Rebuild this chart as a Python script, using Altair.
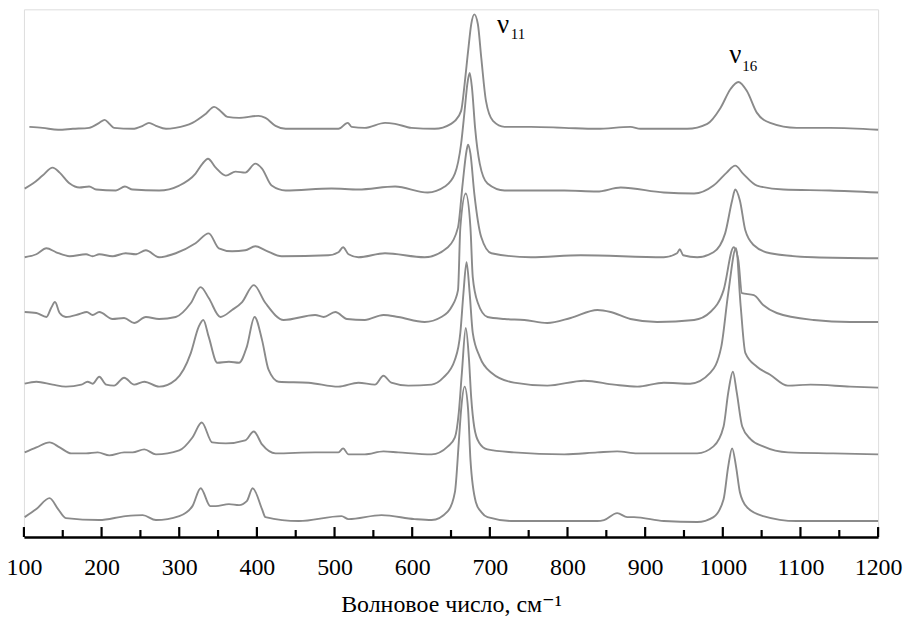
import altair as alt
import pandas as pd

# Raman spectra (wavenumber, stacked intensity in arbitrary units), top to bottom
s1_x = [107,124,144,163,184,197,204,210,216,240,253,261,270,283,295,317,334,345,353,362,377,402,411,424,437,471,505,517,522,539,565,578,599,629,650,655,663,667.5,672,676,680,684.6,689,695,704,719,753,796,838,881,894,954,980,997,1010,1020,1031,1044,1061,1095,1138,1200]
s1_y = [412,411,409,410,411,416,419,415,411,410,413,416,413,410,411,416,425,432,428,422,421,423,421,413,410,410,410,416,412,411,416,415,411,410,415,418,428,455,488,515,525,515,481,438,418,412,412,411,410,412,410,410,415,431,450,457,448,426,416,411,411,409]

s2_x = [101,111.5,124,137,146,159,171.5,184,193,218.5,230,240,274,300,321,330,337,347,360,372.5,385,398,406.6,419,437,496,530.7,578,620,642,655,663,667.5,671,674,677,681,687,697,719,796,838,868.5,924,963,988,1005,1016,1026,1044,1078,1138,1200]
s2_y = [350,355,363,371,366,355,351,352,349,348,352,349,348,353,365,375,380,371,363,367,366,375,370,353,348,350,349,352,346,352,365,395,428,455,466,451,411,375,355,348,348,347,351,346,345,353,366,373,365,353,349,348,346]

s3_x = [101,116,129,141.5,159,180,188.5,197,214,231,244,257,274,295.5,321,338,351,368,385,398,411,432,492,505,511,518,530.7,565,616,646,659,665,670,672,675,680,689,702,753,817,924,941,944.6,949,967,988,1003,1012,1016,1022,1029,1040,1061,1117,1200]
s3_y = [281,284,290,286,282,284,282,284,282,285,284,288,281,285,295,305,290,287,288,292,288,282,283,286,291,284,281,285,281,291,311,355,388,394,385,345,301,285,281,283,281,285,289,283,281,286,305,338,349,338,308,293,285,281,280]

s4_x = [101,116,129,135,140,146,154,171.5,181,188.5,197,214,229,242,257,274,295.5,315,327.6,338,353,368,381,396,411,434.5,475,486,501,516,539,563,582,616,637.5,650.6,659,662,669,675,678,684.6,697,719,744.5,774,804,838.5,855.6,881,915.5,963,984,1001,1014,1020,1024.6,1040,1052,1069.5,1117,1164,1200]
s4_y = [226,225,221,230,236,225,221,224,226,223,226,219,220,215,221,219,221,235,251,240,221,228,236,253,235,218,223,221,226,219,218,223,221,216,221,231,248,311,345,311,261,235,221,219,218,215,220,228,226,219,216,218,226,248,291,278,245,243,233,225,218,216,216]

s5_x = [101,116,137,154,174,182,188.5,197,206,216,229,242,255,274,295.5,315,325,331,338,349,364,377,387,397,406.6,415,428,466.5,505,530.7,552,563,573,595,625,640,655,662,666,670,674,678,687,702,731,774,821.5,860,890,924,958,984,998,1007,1017,1023,1029,1044,1061,1083.7,1113,1164,1200]
s5_y = [154,156,153,151,153,156,154,161,153,152,160,153,156,151,158,185,211,218,201,175,176,175,191,221,198,168,156,155,151,155,153,162,155,152,153,160,178,205,245,276,245,205,181,165,155,152,157,153,151,155,154,165,191,245,290,232,185,171,163,152,153,151,150]

s6_x = [101,116,133,146,161,180,195,210,229,240,255,270,300,317,329,342.5,360,385,396,406.6,424,475,505,511,518,539,563,582,625,646,655,660,664,669,673,676,680,686,697,731,796,838.5,864,890,967,988,1001,1007,1013,1018,1025,1036,1052,1084,1142,1200]
s6_y = [85,90,95,90,84,84,85,82,85,85,88,83,87,100,115,95,94,97,106,93,84,85,85,89,83,83,86,85,83,91,100,125,165,210,180,140,110,95,88,85,83,85,86,84,84,91,111,145,166,145,111,98,91,85,84,83]

s7_x = [101,116,133,144,154,197,231,253,270,300,317,327.6,340,347,364,377,387,394.6,406.6,411,454,509,518,560.5,603,625,646,655,660,663,667.5,672,675,682,689,697,731,838.5,847,864,877,885.6,924,967,988,1001,1007,1012,1017,1022,1031,1052,1095,1200]
s7_y = [20,28,39,28,19,17,21,22,17,21,31,49,31,31,33,32,36,49,28,20,16,21,18,22,18,17,26,45,95,128,151,128,78,35,25,20,16,16,17,24,20,20,16,15,20,38,71,89,71,45,30,21,16,16]

series = [("1", s1_x, s1_y), ("2", s2_x, s2_y), ("3", s3_x, s3_y), ("4", s4_x, s4_y),
          ("5", s5_x, s5_y), ("6", s6_x, s6_y), ("7", s7_x, s7_y)]

major_ticks = [100, 200, 300, 400, 500, 600, 700, 800, 900, 1000, 1100, 1200]
minor_ticks = [150, 250, 350, 450, 550, 650, 750, 850, 950, 1050, 1150]

# band labels
band_main = ["ν", "ν"]
band_main_x = [717, 1016]
band_main_y = [506, 476]
band_sub = ["11", "16"]
band_sub_x = [727, 1025]
band_sub_y = [500, 468]

rows = []
for name, xs, ys in series:
    for x, y in zip(xs, ys):
        rows.append({"series": name, "wn": x, "inten": y})
df = pd.DataFrame(rows)

FONT = "Liberation Serif, Times New Roman, DejaVu Serif, serif"
W, H = 858, 530
xscale = alt.Scale(domain=[100, 1200], nice=False, zero=False)
yscale = alt.Scale(domain=[0, 530], nice=False, zero=False)

lines = alt.Chart(df).mark_line(color="#8a8a8a", strokeWidth=1.9, interpolate="monotone").encode(
    x=alt.X("wn:Q", scale=xscale,
            axis=alt.Axis(values=major_ticks, format="d", title="Волновое число, см⁻¹",
                          labelFont=FONT, labelFontSize=24, labelColor="black",
                          labelPadding=19, labelOverlap=False, labelFlush=False,
                          ticks=False, grid=False, domainColor="black", domainWidth=2.5,
                          titleFont=FONT, titleFontSize=24, titleFontWeight="normal",
                          titleColor="black", titleBaseline="alphabetic", titleY=75)),
    y=alt.Y("inten:Q", scale=yscale, axis=None),
    detail="series:N",
)

major = alt.Chart(pd.DataFrame({"t": major_ticks})).mark_rule(color="black", strokeWidth=2.2).encode(
    x=alt.X("t:Q", scale=xscale), y=alt.value(H), y2=alt.value(H - 10))
minor = alt.Chart(pd.DataFrame({"t": minor_ticks})).mark_rule(color="black", strokeWidth=2.2).encode(
    x=alt.X("t:Q", scale=xscale), y=alt.value(H), y2=alt.value(H - 7))

lab_main = alt.Chart(pd.DataFrame({"t": band_main, "x": band_main_x, "y": band_main_y})).mark_text(
    font=FONT, fontSize=27, align="center", baseline="alphabetic", color="black").encode(
    x=alt.X("x:Q", scale=xscale), y=alt.Y("y:Q", scale=yscale), text="t:N")
lab_sub = alt.Chart(pd.DataFrame({"t": band_sub, "x": band_sub_x, "y": band_sub_y})).mark_text(
    font=FONT, fontSize=15, align="left", baseline="alphabetic", color="black").encode(
    x=alt.X("x:Q", scale=xscale), y=alt.Y("y:Q", scale=yscale), text="t:N")

chart = alt.layer(lines, major, minor, lab_main, lab_sub).properties(
    width=W, height=H,
    autosize=alt.AutoSizeParams(type="none"),
    padding={"left": 16, "top": 0, "right": 25, "bottom": 78},
).configure_view(stroke=None).configure(background="white")

chart.save("out.html", embed_options={"renderer": "svg", "actions": False})
